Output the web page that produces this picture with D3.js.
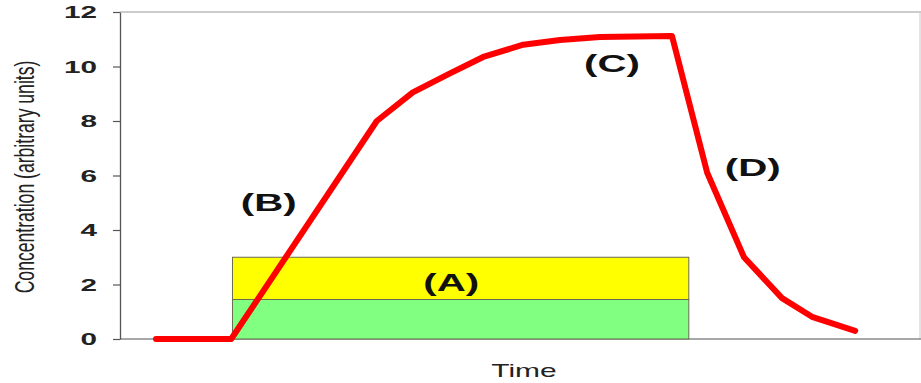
<!DOCTYPE html>
<html><head><meta charset="utf-8">
<script src="https://cdn.jsdelivr.net/npm/d3@7"></script>
<style>body{margin:0;background:#fff}</style>
</head><body><svg id="chart" width="921" height="383"></svg>
<script>
// ---- data ----
const timePoints    = [4.5, 13.9, 32.1, 36.6, 41.25, 45.4, 50.4, 55, 60, 69, 73.4, 78, 82.75, 86.6, 91.9];
const concentration = [0, 0, 8.0, 9.05, 9.75, 10.35, 10.8, 10.97, 11.08, 11.12, 6.1, 3.0, 1.5, 0.8, 0.3];
const yTicks = [0, 2, 4, 6, 8, 10, 12];
const stimulusTime = [14.06, 71.1];
const stimulusLevels = [0, 1.45, 3.0];
const phaseLabels = ["(A)", "(B)", "(C)", "(D)"];
const phaseTime = [41.4, 18.6, 61.5, 79.1];
const phaseConc = [2.05, 5.0, 10.1, 6.27];

// ---- chart ----
const svg = d3.select("#chart");
const x = d3.scaleLinear().domain([0, 100]).range([120, 920]);
const y = d3.scaleLinear().domain([0, 12]).range([339, 12]);
const FONT = "'Liberation Sans', Arial, sans-serif";

// frame
svg.append("line").attr("x1", x(0)).attr("x2", 921).attr("y1", y(12)).attr("y2", y(12))
  .attr("stroke", "#9a9a9a").attr("stroke-width", 1.2);
svg.append("line").attr("x1", 920).attr("x2", 920).attr("y1", y(12)).attr("y2", y(0))
  .attr("stroke", "#c8c8c8").attr("stroke-width", 1);
svg.append("line").attr("x1", x(0)).attr("x2", 921).attr("y1", y(0)).attr("y2", y(0))
  .attr("stroke", "#8a8a8a").attr("stroke-width", 1.3);

// stimulus bands
const bandColors = ["#80ff80", "#ffff00"];
for (let i = 0; i < stimulusLevels.length - 1; i++) {
  svg.append("rect")
    .attr("x", x(stimulusTime[0])).attr("width", x(stimulusTime[1]) - x(stimulusTime[0]))
    .attr("y", y(stimulusLevels[i + 1])).attr("height", y(stimulusLevels[i]) - y(stimulusLevels[i + 1]))
    .attr("fill", bandColors[i]).attr("stroke", "#6b6b50").attr("stroke-width", 1);
}

// y axis
const ax = svg.append("g").attr("transform", `translate(${x(0)},0)`)
  .call(d3.axisLeft(y).tickValues(yTicks).tickSize(7).tickSizeOuter(0));
ax.select(".domain").attr("stroke", "#555").attr("stroke-width", 1.3);
ax.selectAll(".tick line").attr("stroke", "#555").attr("stroke-width", 1.2);
ax.selectAll(".tick text")
  .attr("x", 0).attr("dy", "0.36em")
  .attr("transform", "translate(-23,0) scale(1.8,1)")
  .attr("text-anchor", "end")
  .style("font-family", FONT).style("font-size", "16.5px").style("font-weight", "bold")
  .attr("fill", "#222");

// y label
svg.append("text")
  .attr("transform", "translate(34,177) rotate(-90) scale(1,1.6)")
  .attr("text-anchor", "middle")
  .style("font-family", FONT).style("font-size", "17.6px").attr("fill", "#222")
  .text("Concentration (arbitrary units)");

// x label
svg.append("text")
  .attr("transform", "translate(524,377) scale(1.62,1)")
  .attr("text-anchor", "middle")
  .style("font-family", FONT).style("font-size", "18.5px").attr("fill", "#222")
  .text("Time");

// line
const pts = timePoints.map((t, i) => [t, concentration[i]]);
svg.append("path").datum(pts)
  .attr("d", d3.line().x(d => x(d[0])).y(d => y(d[1])))
  .attr("fill", "none").attr("stroke", "#ff0000").attr("stroke-width", 6)
  .attr("stroke-linejoin", "round").attr("stroke-linecap", "round");

// phase labels
phaseLabels.forEach((lab, i) => {
  svg.append("text")
    .attr("transform", `translate(${x(phaseTime[i])},${y(phaseConc[i])}) scale(1.75,1)`)
    .attr("text-anchor", "middle").attr("dy", "0.36em")
    .style("font-family", FONT).style("font-size", "23px").style("font-weight", "bold")
    .attr("fill", "#111")
    .text(lab);
});
</script>
</body></html>
